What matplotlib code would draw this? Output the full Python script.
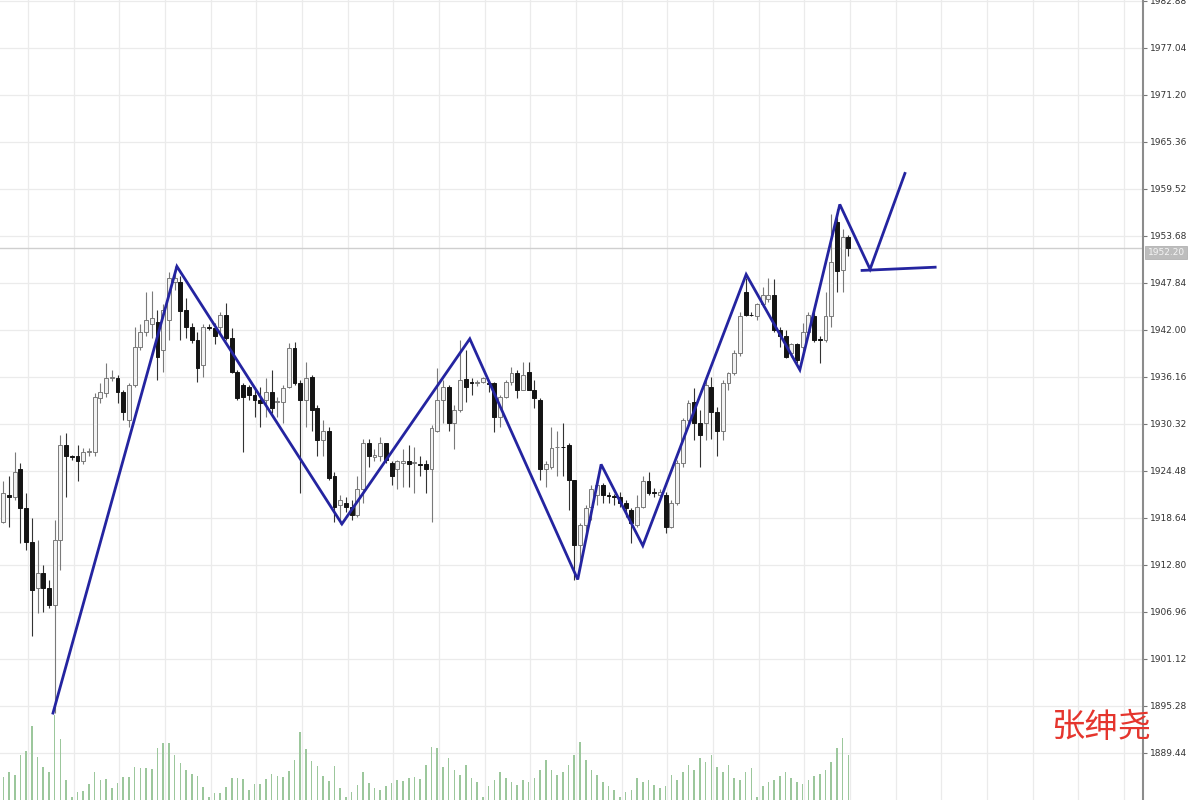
import matplotlib

matplotlib.use("Agg")
import matplotlib.pyplot as plt
import matplotlib.transforms as mtransforms
import numpy as np

plt.rcParams["font.family"] = ["DejaVu Sans"]

# hourly candles
opens = [
    1918.2, 1921.5, 1921.2, 1924.7, 1919.9, 1915.7, 1909.9, 1911.8, 1910.0, 1907.8,
    1915.9, 1927.7, 1926.3, 1926.4, 1925.7, 1926.9, 1926.8, 1933.5, 1934.2, 1936.0,
    1936.0, 1934.3, 1930.8, 1935.2, 1939.9, 1941.8, 1942.7, 1943.0, 1939.5, 1943.3,
    1947.9, 1948.0, 1944.5, 1942.4, 1940.8, 1937.7, 1942.4, 1942.3, 1942.4, 1943.9,
    1941.0, 1936.8, 1935.2, 1934.9, 1933.9, 1933.3, 1933.3, 1934.3, 1933.0, 1933.0,
    1934.9, 1939.8, 1935.4, 1933.3, 1936.2, 1932.3, 1928.3, 1929.5, 1923.8, 1920.3,
    1920.5, 1920.0, 1919.0, 1922.2, 1928.0, 1926.2, 1926.3, 1927.9, 1925.5, 1924.7,
    1925.5, 1925.7, 1925.5, 1925.3, 1925.3, 1924.7, 1929.5, 1933.3, 1934.9, 1930.5,
    1932.0, 1935.9, 1935.5, 1935.4, 1935.5, 1935.4, 1935.4, 1931.2, 1933.7, 1935.5,
    1936.7, 1934.5, 1936.8, 1934.5, 1933.3, 1924.7, 1925.0, 1927.4, 1927.5, 1927.7,
    1923.4, 1915.3, 1917.8, 1920.0, 1921.5, 1922.8, 1921.5, 1921.3, 1921.2, 1920.5,
    1919.6, 1917.8, 1920.0, 1923.2, 1921.9, 1921.5, 1921.5, 1917.5, 1920.5, 1925.5,
    1930.8, 1933.0, 1930.5, 1930.5, 1934.9, 1931.8, 1929.5, 1935.4, 1936.7, 1939.2,
    1946.7, 1943.9, 1943.7, 1945.2, 1945.8, 1946.4, 1942.0, 1941.2, 1939.2, 1940.2,
    1939.9, 1941.7, 1943.7, 1940.8, 1940.8, 1943.7, 1955.4, 1949.5, 1953.5,
]
highs = [
    1923.2, 1923.8, 1926.9, 1925.5, 1921.8, 1918.7, 1915.9, 1912.8, 1910.9, 1918.4,
    1928.9, 1929.2, 1926.5, 1927.7, 1927.3, 1927.3, 1934.2, 1935.4, 1937.9, 1937.0,
    1936.4, 1934.5, 1935.4, 1942.4, 1942.7, 1946.7, 1946.8, 1944.5, 1945.2, 1949.2,
    1949.9, 1948.7, 1946.0, 1942.9, 1941.7, 1942.7, 1942.7, 1942.9, 1944.2, 1945.4,
    1942.3, 1937.0, 1935.4, 1935.2, 1934.5, 1934.9, 1936.0, 1937.0, 1933.7, 1935.2,
    1940.4, 1940.5, 1935.8, 1938.0, 1936.4, 1932.7, 1930.8, 1929.9, 1924.3, 1921.5,
    1921.2, 1920.9, 1923.8, 1928.5, 1928.5, 1927.2, 1928.7, 1928.0, 1925.7, 1925.9,
    1927.2, 1927.7, 1927.5, 1926.3, 1925.9, 1930.2, 1937.3, 1935.8, 1935.2, 1932.7,
    1940.8, 1939.5, 1936.0, 1935.8, 1936.2, 1935.8, 1935.5, 1933.9, 1935.8, 1937.4,
    1937.0, 1938.0, 1938.0, 1935.8, 1933.5, 1925.7, 1929.9, 1929.5, 1930.4, 1927.9,
    1923.4, 1918.0, 1920.3, 1922.8, 1923.6, 1923.0, 1921.9, 1921.6, 1921.9, 1920.9,
    1919.9, 1921.5, 1923.8, 1924.3, 1922.4, 1922.2, 1921.9, 1920.9, 1925.9, 1931.1,
    1933.3, 1934.8, 1932.0, 1935.8, 1936.2, 1932.4, 1935.8, 1936.8, 1939.5, 1944.2,
    1948.5, 1944.2, 1945.4, 1947.4, 1948.4, 1948.3, 1942.4, 1942.0, 1940.4, 1940.4,
    1942.9, 1944.2, 1944.5, 1941.2, 1946.7, 1956.4, 1957.0, 1954.5, 1953.8,
]
lows = [
    1918.0, 1917.5, 1920.9, 1915.5, 1914.7, 1904.0, 1906.8, 1906.9, 1907.5, 1894.4,
    1912.2, 1921.2, 1925.9, 1923.2, 1925.3, 1926.3, 1926.4, 1932.9, 1933.7, 1935.7,
    1932.9, 1930.8, 1929.9, 1934.9, 1939.5, 1941.2, 1941.0, 1935.8, 1936.8, 1940.8,
    1947.0, 1940.8, 1941.0, 1940.4, 1935.5, 1936.2, 1942.0, 1940.2, 1941.4, 1940.8,
    1936.7, 1933.3, 1926.8, 1933.3, 1931.2, 1929.9, 1931.2, 1931.7, 1931.2, 1930.4,
    1934.8, 1935.2, 1921.8, 1929.9, 1929.5, 1926.3, 1926.3, 1923.4, 1918.2, 1917.9,
    1919.4, 1918.4, 1918.8, 1920.5, 1925.0, 1925.7, 1925.7, 1925.5, 1922.8, 1922.2,
    1922.5, 1922.5, 1921.8, 1923.8, 1921.8, 1918.2, 1929.3, 1930.4, 1929.5, 1927.2,
    1931.8, 1933.0, 1933.9, 1935.0, 1935.4, 1934.3, 1929.3, 1929.9, 1933.5, 1935.2,
    1933.5, 1934.5, 1934.5, 1932.3, 1923.4, 1922.5, 1924.7, 1923.8, 1923.8, 1919.6,
    1910.9, 1913.4, 1915.9, 1918.4, 1920.3, 1920.5, 1920.5, 1920.3, 1920.0, 1918.8,
    1915.5, 1917.5, 1919.9, 1921.5, 1921.3, 1920.9, 1916.8, 1917.4, 1920.3, 1925.0,
    1930.4, 1928.3, 1925.0, 1928.3, 1928.5, 1926.3, 1928.3, 1934.5, 1936.4, 1938.8,
    1943.7, 1943.7, 1943.3, 1944.9, 1945.5, 1941.7, 1939.9, 1938.5, 1938.7, 1937.9,
    1938.7, 1941.2, 1940.5, 1937.9, 1940.5, 1942.4, 1946.7, 1946.7, 1951.2,
]
closes = [
    1921.8, 1921.2, 1924.4, 1919.9, 1915.7, 1909.7, 1911.8, 1909.9, 1907.8, 1915.9,
    1927.7, 1926.3, 1926.2, 1925.7, 1926.9, 1927.0, 1933.7, 1934.3, 1936.0, 1936.1,
    1934.3, 1931.8, 1935.2, 1939.9, 1941.8, 1943.3, 1943.5, 1938.7, 1944.5, 1948.5,
    1948.5, 1944.3, 1942.4, 1940.8, 1937.3, 1942.4, 1942.3, 1941.2, 1943.9, 1941.0,
    1936.8, 1933.5, 1933.7, 1933.9, 1933.3, 1932.9, 1934.3, 1932.3, 1933.1, 1934.8,
    1939.8, 1935.4, 1933.3, 1936.0, 1932.0, 1928.3, 1929.5, 1923.6, 1920.0, 1920.9,
    1920.0, 1919.0, 1922.2, 1928.0, 1926.3, 1926.5, 1927.9, 1925.9, 1923.8, 1925.7,
    1925.7, 1925.4, 1925.6, 1925.2, 1924.7, 1929.8, 1933.3, 1934.9, 1930.5, 1932.0,
    1935.8, 1934.9, 1935.4, 1935.5, 1936.0, 1935.3, 1931.2, 1933.7, 1935.5, 1936.7,
    1934.5, 1936.4, 1934.5, 1933.5, 1924.7, 1925.3, 1927.3, 1927.5, 1927.4, 1923.4,
    1915.3, 1917.8, 1919.9, 1922.2, 1922.8, 1921.5, 1921.4, 1921.2, 1920.5, 1919.9,
    1918.0, 1920.0, 1923.2, 1921.8, 1921.8, 1921.9, 1917.5, 1920.5, 1925.5, 1930.8,
    1932.9, 1930.4, 1928.9, 1935.2, 1931.8, 1929.5, 1935.4, 1936.7, 1939.2, 1943.7,
    1943.9, 1943.8, 1945.2, 1946.4, 1946.4, 1942.0, 1941.2, 1938.7, 1940.2, 1938.3,
    1941.7, 1943.9, 1940.8, 1940.7, 1943.7, 1950.4, 1949.3, 1953.5, 1952.2,
]
volumes = [
    2300, 2800, 2500, 4500, 4900, 7400, 4300, 3300, 2800, 8500,
    6100, 2000, 300, 800, 900, 1600, 2800, 2000, 2100, 1200,
    1700, 2300, 2300, 3300, 3200, 3200, 3100, 5200, 5700, 5700,
    4500, 3700, 3000, 2600, 2400, 1300, 300, 700, 700, 1300,
    2200, 2200, 2100, 1000, 1600, 1600, 2100, 2600, 2400, 2300,
    2900, 4000, 6800, 5100, 3900, 3400, 2400, 1900, 3400, 1200,
    300, 800, 1500, 2800, 1700, 1200, 1000, 1400, 1700, 2000,
    1900, 2200, 2300, 2100, 3500, 5300, 5200, 3300, 4200, 3000,
    2500, 3500, 2200, 1800, 300, 1400, 2000, 2800, 2200, 1800,
    1500, 2000, 1800, 2200, 3000, 4000, 3000, 2500, 2800, 3500,
    4500, 5800, 4000, 3000, 2500, 1800, 1400, 1000, 300, 800,
    1000, 2200, 1800, 2000, 1500, 1200, 1400, 2500, 2000, 2800,
    3500, 3000, 4200, 3800, 4500, 3300, 2800, 3500, 2200, 2000,
    2800, 3200, 300, 1400, 1800, 2000, 2400, 2800, 2200, 1800,
    1600, 2000, 2400, 2600, 3000, 3800, 5200, 6200, 4500,
]

# hand-drawn wave line (bar index, price)
wave_idx = [8.7, 30.4, 59.3, 81.7, 100.6, 104.7, 112.0, 130.1, 139.5, 146.5, 151.8, 157.9]
wave_price = [1894.4, 1949.9, 1917.9, 1940.9, 1911.0, 1925.3, 1915.2, 1948.9,
              1937.05, 1957.6, 1949.55, 1961.45]
level_idx = [150.4, 163.2]
level_price = [1949.4, 1949.8]

price_ticks = [1889.44, 1895.28, 1901.12, 1906.96, 1912.80, 1918.64, 1924.48,
               1930.32, 1936.16, 1942.00, 1947.84, 1953.68, 1959.52, 1965.36,
               1971.20, 1977.04, 1982.88]

o = np.array(opens)
h = np.array(highs)
l = np.array(lows)
c = np.array(closes)
x = np.arange(len(c))
up = c >= o

fig = plt.figure(figsize=(12, 8), dpi=100)
fig.patch.set_facecolor("white")
ax = fig.add_axes([0, 0, 1143 / 1200, 1])
ax.set_xlim(-0.58, 199.6)
ax.set_ylim(1883.6, 1983.0)

# volume underneath, on its own scale
axv = ax.twinx()
axv.set_ylim(0, 80000)
axv.bar(x, volumes, width=0.28, color="#9cc79c", linewidth=0)
axv.axis("off")

# wicks and bodies
ax.vlines(x[up], l[up], h[up], color="#7a7a7a", lw=0.8, zorder=3)
ax.vlines(x[~up], l[~up], h[~up], color="#333333", lw=0.8, zorder=3)
body_lo = np.minimum(o, c)
body_h = np.maximum(np.abs(c - o), 0.12)
ax.bar(x[up], body_h[up], bottom=body_lo[up], width=0.68,
       color="#f2f2f2", edgecolor="#7a7a7a", linewidth=0.7, zorder=4)
ax.bar(x[~up], body_h[~up], bottom=body_lo[~up], width=0.68,
       color="#141414", edgecolor="#141414", linewidth=0.7, zorder=4)

# current price line + tag
last = closes[-1]
ax.axhline(last, color="#cfcfcf", lw=1, zorder=1)
trans = mtransforms.blended_transform_factory(ax.transAxes, ax.transData)
ax.text(1.004, last - 0.6, f"{last:.2f}", transform=trans, fontsize=6.5,
        color="#f4f4f4", va="center", ha="left", clip_on=False,
        bbox=dict(boxstyle="square,pad=0.25", fc="#bdbdbd", ec="#a8a8a8", lw=0.5))

# wave drawing
ax.plot(wave_idx, wave_price, color="#2424a0", lw=2.0, solid_joinstyle="miter", zorder=6)
ax.plot(level_idx, level_price, color="#2424a0", lw=2.0, zorder=6)

# grid and axis
ax.set_yticks(price_ticks)
ax.set_yticklabels([f"{t:.2f}" for t in price_ticks])
ax.set_xticks(np.arange(4.3, 200, 8))
ax.tick_params(axis="x", length=0, labelbottom=False)
ax.yaxis.tick_right()
ax.tick_params(axis="y", direction="out", length=3, width=0.8, color="#777777",
               labelsize=6.5, labelcolor="#333333", pad=2)
ax.grid(True, color="#ebebeb", lw=0.9)
ax.set_axisbelow(True)
for side in ["top", "left", "bottom"]:
    ax.spines[side].set_visible(False)
ax.spines["right"].set_color("#8c8c8c")
ax.spines["right"].set_linewidth(1.5)

fig.text(0.9175, 0.09, "张绅尧", color="#e5352d", fontsize=24,
         family=["Noto Sans CJK SC", "DejaVu Sans"], ha="center", va="center")

fig.savefig("out.png", dpi=100)
